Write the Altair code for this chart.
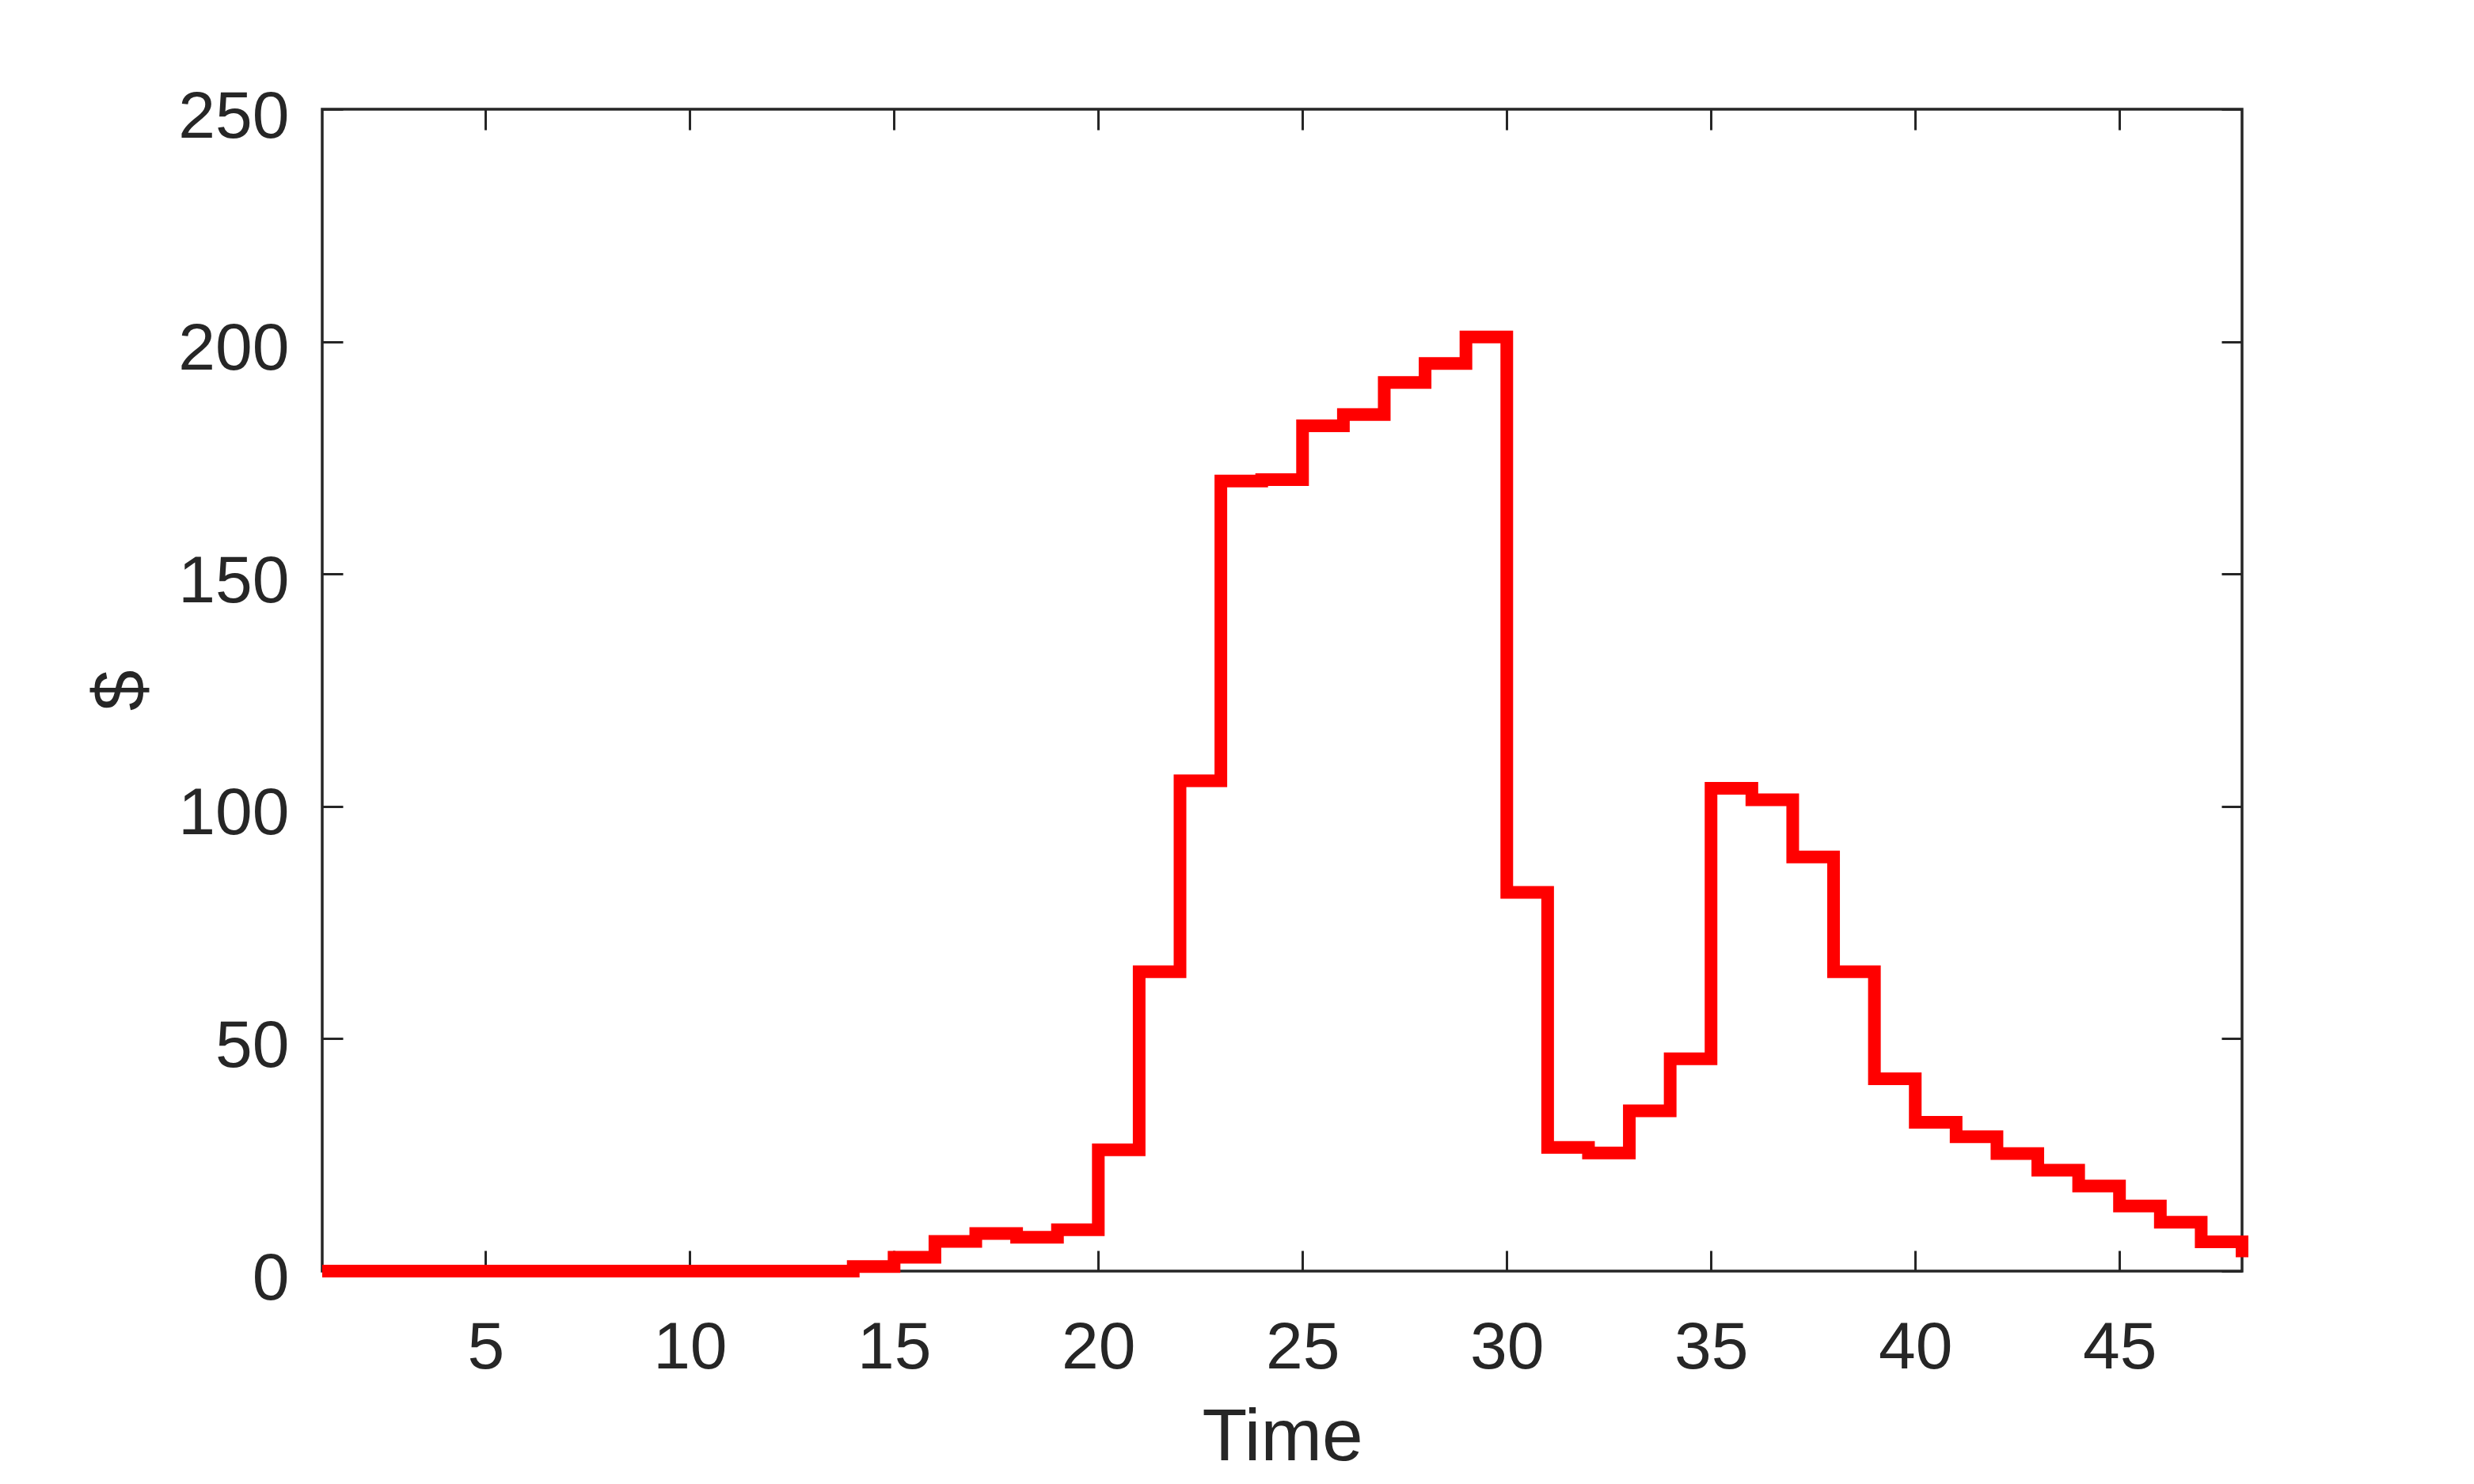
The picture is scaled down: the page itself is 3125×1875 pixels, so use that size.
import altair as alt
import pandas as pd

time = list(range(1, 49))
dollars = [0, 0, 0, 0, 0, 0, 0, 0, 0, 0, 0, 0, 0,
           1.0, 3.0, 6.4, 8.1, 7.3, 8.9, 26.1, 64.4, 105.5, 170.0, 170.3,
           181.9, 184.3, 191.2, 195.3, 201.0, 81.5, 26.6, 25.4, 34.5, 45.7,
           103.9, 101.4, 89.1, 64.4, 41.4, 32.0, 28.9, 25.3, 21.7, 18.3,
           14.0, 10.5, 6.3, 3.0]
x_ticks = [5, 10, 15, 20, 25, 30, 35, 40, 45]
y_ticks = [0, 50, 100, 150, 200, 250]

df = pd.DataFrame({"t": time, "v": dollars})

INK = "#262626"
FONT = "Liberation Sans"
W, H = 2425, 1468
TICK = 26

xs = alt.Scale(domain=[1, 48], nice=False, zero=False)
ys = alt.Scale(domain=[0, 250], nice=False)


def tick_axis(orient):
    return alt.Axis(orient=orient, values=x_ticks if orient in ("top", "bottom") else y_ticks,
                    labels=False, domain=False, grid=False, ticks=True,
                    tickSize=TICK, tickWidth=3, tickColor=INK, offset=-TICK, title=None)


main = alt.Chart(df).mark_line(
    interpolate="step-after", color="#FF0000", strokeWidth=16,
    strokeJoin="miter", strokeCap="butt"
).encode(
    x=alt.X("t:Q", scale=xs, axis=alt.Axis(
        orient="bottom", values=x_ticks, domain=False, ticks=False, tickSize=0, grid=False,
        labelPadding=56, labelFont=FONT, labelFontSize=84, labelColor=INK,
        labelFlush=False, labelOverlap=False,
        title="Time", titleFont=FONT, titleFontSize=93, titleFontWeight="normal",
        titleColor=INK, titleX=W / 2, titleY=238, titleBaseline="alphabetic",
        titleAlign="center")),
    y=alt.Y("v:Q", scale=ys, axis=alt.Axis(
        orient="left", values=y_ticks, domain=False, ticks=False, tickSize=0, grid=False,
        labelPadding=42, labelFont=FONT, labelFontSize=84, labelColor=INK,
        labelBaseline="middle", labelOffset=10, labelFlush=False, labelOverlap=False,
        title="$", titleFont=FONT, titleFontSize=93, titleFontWeight="normal",
        titleColor=INK, titleX=-226, titleY=H / 2, titleAngle=270,
        titleBaseline="alphabetic", titleAlign="center")),
)

ticks_bl = alt.Chart(df).mark_line(strokeOpacity=0).encode(
    x=alt.X("t:Q", scale=xs, axis=tick_axis("bottom")),
    y=alt.Y("v:Q", scale=ys, axis=tick_axis("left")),
)

ticks_tr = alt.Chart(df).mark_line(strokeOpacity=0).encode(
    x=alt.X("t:Q", scale=xs, axis=tick_axis("top")),
    y=alt.Y("v:Q", scale=ys, axis=tick_axis("right")),
)

chart = alt.layer(ticks_bl, ticks_tr, main).resolve_axis(
    x="independent", y="independent"
).properties(
    width=W, height=H,
    padding={"left": 399, "top": 130, "right": 270, "bottom": 260},
    autosize=alt.AutoSizeParams(type="none"),
    background="white",
).configure_view(stroke=INK, strokeWidth=3.5)

chart.save("out.html", embed_options={"renderer": "svg", "actions": False})
